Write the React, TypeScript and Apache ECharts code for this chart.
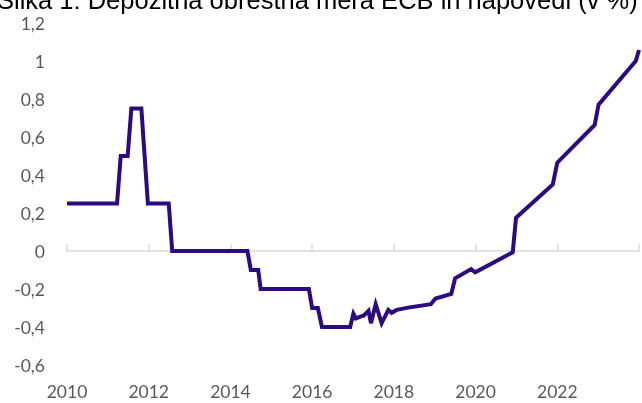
import React, { useEffect, useRef } from "react";
import * as echarts from "echarts";

const TITLE = "Slika 1: Depozitna obrestna mera ECB in napovedi (v %)";

const years = [
  2010.0, 2011.225, 2011.315, 2011.485, 2011.575, 2011.82, 2011.98, 2012.49, 2012.575,
  2014.415, 2014.5, 2014.68, 2014.74, 2015.92, 2016.0, 2016.14, 2016.24, 2016.93,
  2017.01, 2017.07, 2017.18, 2017.26, 2017.38, 2017.44, 2017.555, 2017.7, 2017.865,
  2017.945, 2018.07, 2018.35, 2018.905, 2019.02, 2019.405, 2019.5, 2019.89, 2019.99,
  2020.91, 2020.99, 2021.89, 2022.0, 2022.915, 2023.01, 2023.92, 2024.0,
];
const rates = [
  0.25, 0.25, 0.5, 0.5, 0.75, 0.75, 0.25, 0.25, 0,
  0, -0.1, -0.1, -0.2, -0.2, -0.3, -0.3, -0.4, -0.4,
  -0.33, -0.355, -0.345, -0.34, -0.315, -0.38, -0.28, -0.38, -0.31,
  -0.325, -0.31, -0.298, -0.28, -0.25, -0.226, -0.144, -0.095, -0.112,
  -0.007, 0.175, 0.35, 0.465, 0.663, 0.77, 1.0, 1.058,
];

const X_MIN = 2010;
const X_MAX = 2024;
const X_STEP = 2;
const Y_MIN = -0.6;
const Y_MAX = 1.2;
const Y_STEP = 0.2;

const LABEL_FONT = "Lato";
const LABEL_COLOR = "#595959";
const LINE_COLOR = "#2D0A80";

export default function App() {
  const ref = useRef<HTMLDivElement>(null);
  useEffect(() => {
    if (!ref.current) return;
    const chart = echarts.init(ref.current, null, { renderer: "svg" });
    const data = years.map((y, i) => [y, rates[i]]);
    chart.setOption({
      animation: false,
      grid: { left: 67, right: 0, top: 23, bottom: 38, containLabel: false },
      graphic: [
        {
          type: "text",
          left: -3,
          top: -13,
          style: {
            text: TITLE,
            fill: "#000000",
            font: '25.5px "Liberation Sans", Arial, sans-serif',
          },
        },
      ],
      xAxis: [
        {
          type: "value",
          min: X_MIN,
          max: X_MAX,
          interval: X_STEP,
          position: "bottom",
          axisLine: { show: false, onZero: false },
          axisTick: { show: false },
          splitLine: { show: false },
          axisLabel: {
            margin: 17,
            color: LABEL_COLOR,
            fontFamily: LABEL_FONT,
            fontSize: 17.5,
            formatter: (v: number) => (v >= X_MAX ? "" : String(Math.round(v))),
          },
        },
        {
          type: "value",
          min: X_MIN,
          max: X_MAX,
          interval: X_STEP,
          position: "bottom",
          axisLine: { show: true, onZero: true, lineStyle: { color: "#D9D9D9", width: 1.5 } },
          axisTick: { show: true, inside: true, length: 7, lineStyle: { color: "#D9D9D9", width: 1.5 } },
          splitLine: { show: false },
          axisLabel: { show: false },
        },
      ],
      yAxis: {
        type: "value",
        min: Y_MIN,
        max: Y_MAX,
        interval: Y_STEP,
        axisLine: { show: false },
        axisTick: { show: false },
        splitLine: { show: false },
        axisLabel: {
          margin: 22,
          color: LABEL_COLOR,
          fontFamily: LABEL_FONT,
          fontSize: 17.5,
          formatter: (v: number) => String(Number(v.toFixed(1))).replace(".", ","),
        },
      },
      series: [
        {
          type: "line",
          xAxisIndex: 0,
          data,
          showSymbol: false,
          symbol: "none",
          lineStyle: { color: LINE_COLOR, width: 4, join: "miter" },
          clip: false,
        },
      ],
    });
    return () => chart.dispose();
  }, []);
  return (
    <div
      ref={ref}
      style={{ position: "fixed", left: 0, top: 0, width: 642, height: 403 }}
    />
  );
}
